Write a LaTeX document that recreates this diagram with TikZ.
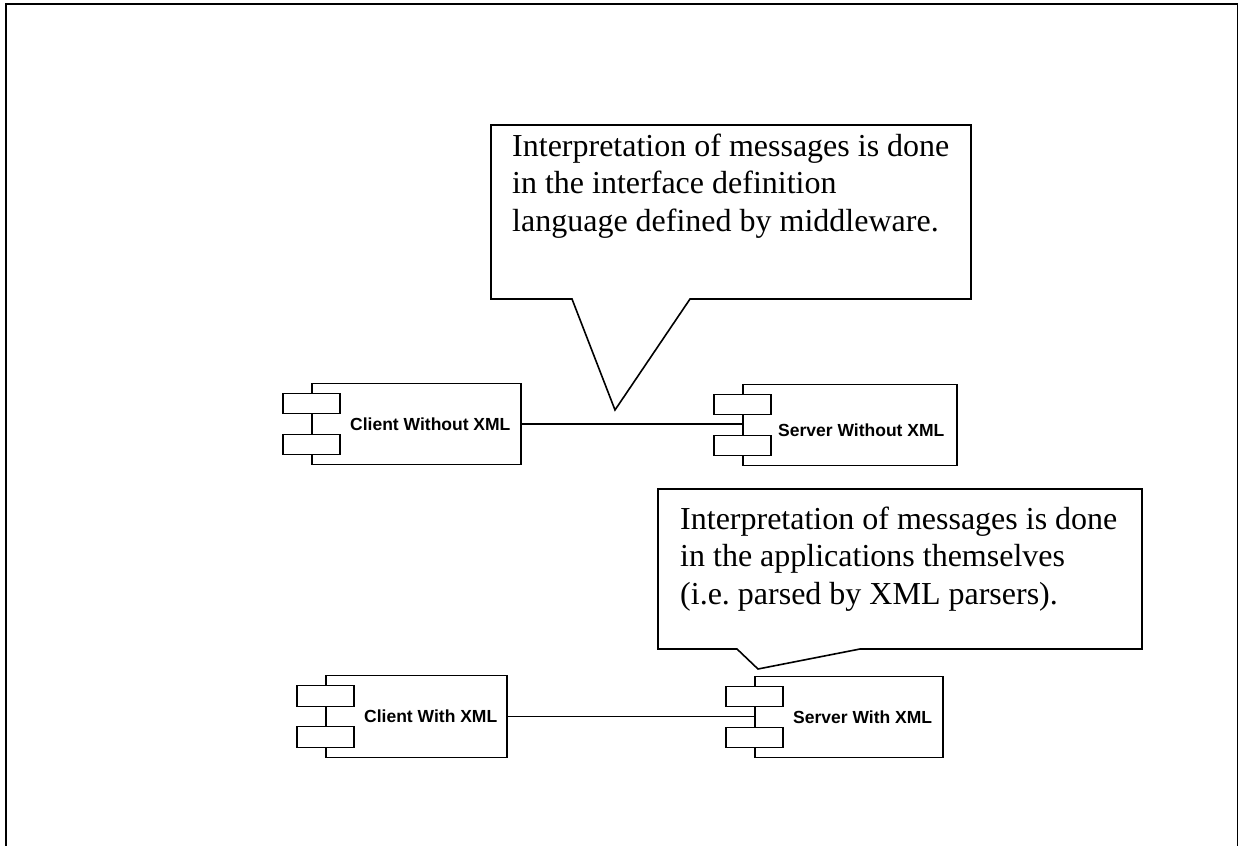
\documentclass[tikz,border=0pt]{standalone}
\usepackage{fontspec}
\setmainfont{Liberation Serif}
\setsansfont{Liberation Sans}
\frenchspacing
\begin{document}
\begin{tikzpicture}[x=1pt,y=-1pt,
  frame/.style={line width=1.6pt},
  bubble/.style={draw, line width=1.6pt, fill=white, line join=miter},
  note/.style={anchor=base west, inner sep=0pt, font=\fontsize{32}{37.5}\selectfont},
  comp/.style={draw, line width=1.3pt, fill=white, minimum width=#1, minimum height=81.5pt, inner sep=0pt},
  port/.style={draw, line width=1.3pt, fill=white, minimum width=57pt, minimum height=20.5pt, inner sep=0pt, anchor=north},
  compname/.style={anchor=base west, inner sep=0pt, font=\sffamily\bfseries\fontsize{17.5}{20}\selectfont},
  link/.style={line width=1.2pt}
]
\useasboundingbox (0,0) rectangle (1245,846);

% outer frame (open at the bottom)
\draw[frame] (6,846) -- (6,4) -- (1237.5,4) -- (1237.5,846);

% components without XML
\node[comp=209pt] (cwo) at (416.5,424) {};
\node[port] (cwo-a) at ([yshift=-10pt]cwo.north west) {};
\node[port] (cwo-b) at ([yshift=-51pt]cwo.north west) {};
\node[compname] (cwo-t) at (350,430) {Client Without XML};

\node[comp=214pt] (swo) at (850,425) {};
\node[port] (swo-a) at ([yshift=-10pt]swo.north west) {};
\node[port] (swo-b) at ([yshift=-51pt]swo.north west) {};
\node[compname] (swo-t) at (778,436) {Server Without XML};

% components with XML
\node[comp=181pt] (cw) at (416.5,716.5) {};
\node[port] (cw-a) at ([yshift=-10pt]cw.north west) {};
\node[port] (cw-b) at ([yshift=-51pt]cw.north west) {};
\node[compname] (cw-t) at (364,722) {Client With XML};

\node[comp=188pt] (sw) at (849,717) {};
\node[port] (sw-a) at ([yshift=-10pt]sw.north west) {};
\node[port] (sw-b) at ([yshift=-51pt]sw.north west) {};
\node[compname] (sw-t) at (793,723) {Server With XML};

% connections
\draw[link] (cwo.east) -- (cwo.east -| swo.west);
\draw[link] (cw.east) -- (cw.east -| sw.west);

% callout over the upper connection
\draw[bubble] (491,125) -- (971,125) -- (971,299) -- (690,299) -- (615,410)
  -- (572,299) -- (491,299) -- cycle;
\node[note] (n1) at (512,156) {\begin{tabular}[t]{@{}l@{}}
  Interpretation of messages is done\\
  in the interface definition\\
  language defined by middleware.\end{tabular}};

% callout over the server with XML
\draw[bubble] (658,489) -- (1142,489) -- (1142,649) -- (860,649) -- (758,669)
  -- (737,649) -- (658,649) -- cycle;
\node[note] (n2) at (680,529) {\begin{tabular}[t]{@{}l@{}}
  Interpretation of messages is done\\
  in the applications themselves\\
  (i.e. parsed by XML parsers).\end{tabular}};
\end{tikzpicture}
\end{document}
